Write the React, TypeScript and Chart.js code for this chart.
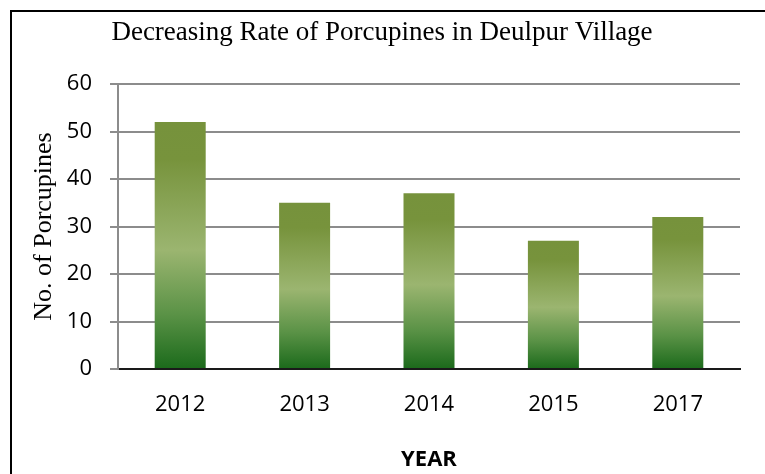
import React, { useEffect, useRef } from "react";
import { Chart, registerables } from "chart.js";

Chart.register(...registerables);

const TITLE = "Decreasing Rate of Porcupines in Deulpur Village";
const Y_TITLE = "No. of Porcupines";
const X_TITLE = "YEAR";
const years = ["2012", "2013", "2014", "2015", "2017"];
const porcupines = [52, 35, 37, 27, 32];
const yMin = 0;
const yMax = 60;
const yStep = 10;

const SERIF = "'Liberation Serif', 'Times New Roman', serif";
const SANS = "'Open Sans', 'Liberation Sans', sans-serif";

const frameAndTitle = {
  id: "frameAndTitle",
  beforeDraw(chart: any) {
    const c = chart.ctx;
    c.save();
    c.fillStyle = "#ffffff";
    c.fillRect(0, 0, chart.width, chart.height);
    c.strokeStyle = "#000000";
    c.lineWidth = 2;
    c.beginPath();
    c.moveTo(11, chart.height);
    c.lineTo(11, 11);
    c.lineTo(chart.width, 11);
    c.stroke();
    c.fillStyle = "#000000";
    c.font = `normal 27px ${SERIF}`;
    c.textAlign = "center";
    c.textBaseline = "alphabetic";
    c.fillText(TITLE, 382, 40);
    c.restore();
  },
};

export default function App() {
  const ref = useRef<HTMLCanvasElement | null>(null);

  useEffect(() => {
    if (!ref.current) return;
    const chart = new Chart(ref.current, {
      type: "bar",
      data: {
        labels: years,
        datasets: [
          {
            label: Y_TITLE,
            data: porcupines,
            backgroundColor: (ctx: any) => {
              const ch = ctx.chart;
              const { chartArea, scales } = ch;
              if (!chartArea || !scales || !scales.y || ctx.type !== "data") return "#77933C";
              const top = scales.y.getPixelForValue(ctx.raw);
              const bottom = scales.y.getPixelForValue(0);
              const g = ch.ctx.createLinearGradient(0, top, 0, bottom);
              g.addColorStop(0, "#76923C");
              g.addColorStop(0.15, "#77933C");
              g.addColorStop(0.52, "#9BB570");
              g.addColorStop(0.78, "#5A9246");
              g.addColorStop(1, "#1B6A1B");
              return g;
            },
            borderWidth: 0,
            categoryPercentage: 1,
            barPercentage: 0.41,
          },
        ],
      },
      options: {
        responsive: false,
        animation: false,
        layout: { padding: { left: 0, right: 25, top: 84, bottom: 0 } },
        plugins: {
          legend: { display: false },
          tooltip: { enabled: false },
          title: { display: false },
        },
        scales: {
          x: {
            afterFit(scale: any) {
              scale.height = 105;
            },
            grid: { display: false, drawTicks: false },
            border: { display: true, color: "#1a1a1a", width: 2 },
            ticks: {
              color: "#000000",
              font: { family: SANS, size: 22 },
              padding: 23,
            },
            title: {
              display: true,
              text: X_TITLE,
              color: "#000000",
              font: { family: SANS, size: 22, weight: "bold" },
              padding: { top: 0, bottom: 1.5 },
            },
          },
          y: {
            min: yMin,
            max: yMax,
            afterFit(scale: any) {
              scale.width = 118;
            },
            grid: {
              color: "#8c8c8c",
              lineWidth: 2,
              tickLength: 8,
              drawTicks: true,
            },
            border: { display: true, color: "#8c8c8c", width: 2 },
            ticks: {
              stepSize: yStep,
              color: "#000000",
              font: { family: SANS, size: 22 },
              padding: 18,
            },
            title: {
              display: true,
              text: Y_TITLE,
              color: "#000000",
              font: { family: SERIF, size: 26, weight: "normal" },
              padding: { top: 29, bottom: 0 },
            },
          },
        },
      },
      plugins: [frameAndTitle],
    });
    return () => chart.destroy();
  }, []);

  return (
    <div style={{ position: "fixed", left: 0, top: 0, width: 765, height: 474, background: "#fff" }}>
      <canvas ref={ref} width={765} height={474} style={{ display: "block" }} />
    </div>
  );
}
